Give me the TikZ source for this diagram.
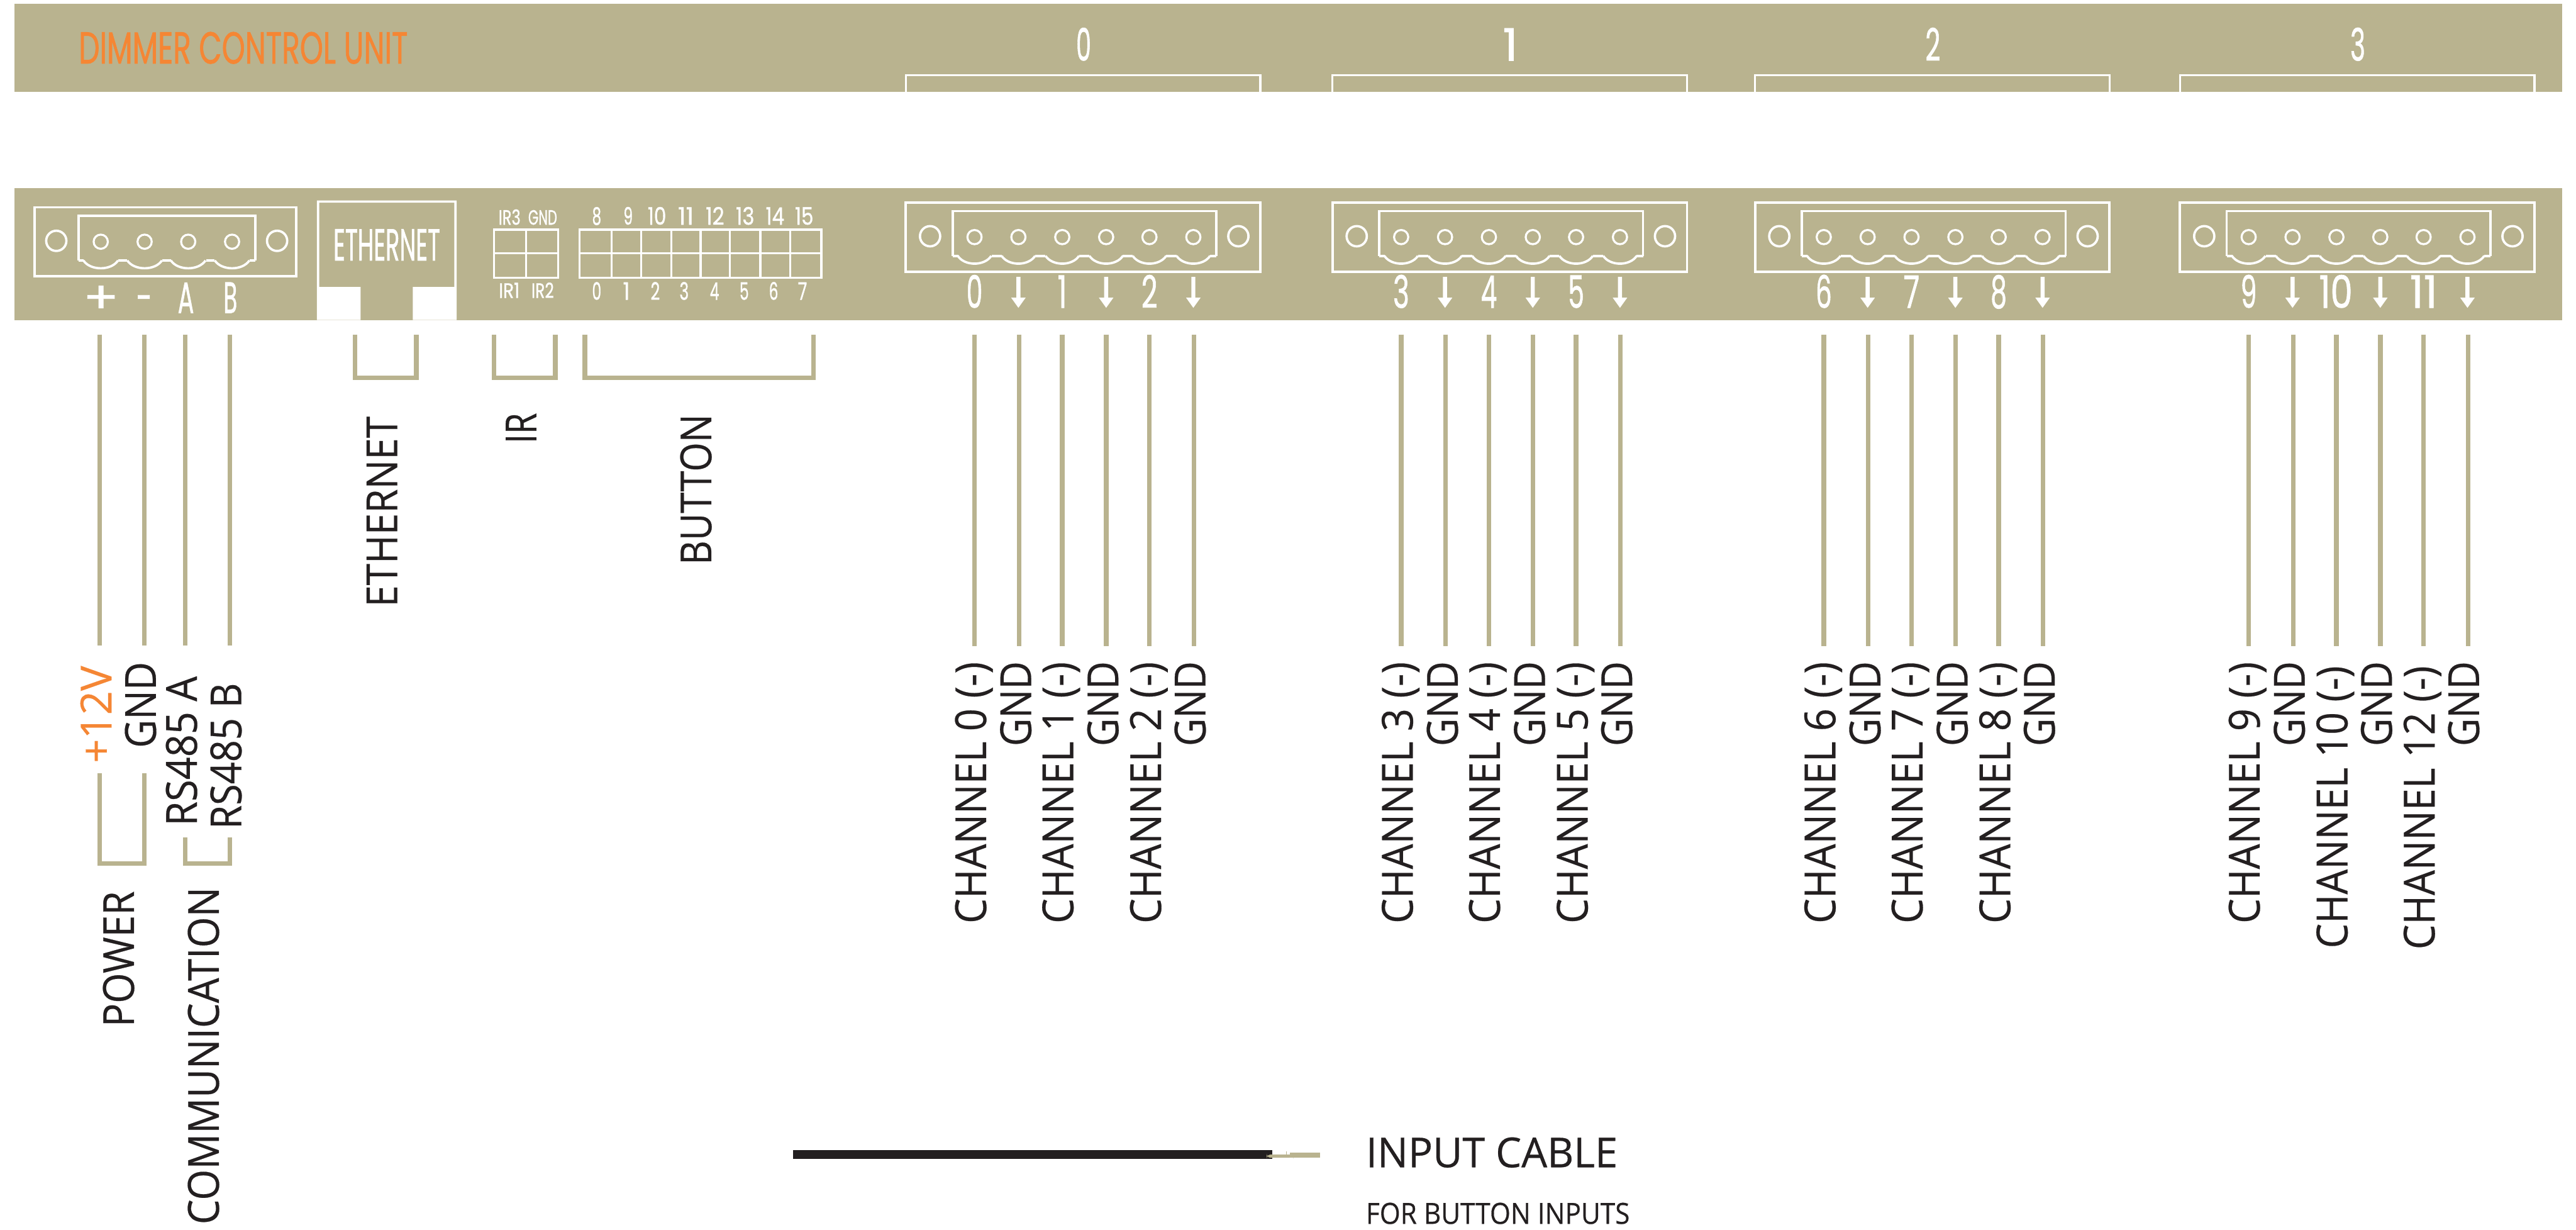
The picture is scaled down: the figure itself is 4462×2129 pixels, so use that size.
\documentclass[tikz,border=0pt]{standalone}
\usepackage{fontspec}
\usepackage{graphicx}
\newfontfamily\fut[FakeBold=1.2]{Poppins}
\newfontfamily\blk[FakeBold=0.4]{Open Sans}
\definecolor{tan}{HTML}{B9B38F}
\definecolor{orng}{HTML}{F58634}
\definecolor{ink}{HTML}{231F20}
\newlength\pxu \setlength\pxu{0.01cm}
\newsavebox\Hb
% fit text: width, cap height, font, text
\newcommand\fit[4]{\sbox\Hb{#3H}\resizebox{#1\pxu}{#2\pxu}{\raisebox{0pt}[\ht\Hb][0pt]{#3#4}}}
\tikzset{
  band/.style={fill=tan,draw=none},
  wl/.style={draw=white,line width=0.04cm},
  wlthin/.style={draw=white,line width=0.035cm},
  wire/.style={draw=tan,line width=0.08cm},
  lab/.style={inner sep=0pt,outer sep=0pt,anchor=base,text=white},
  rotlab/.style={inner sep=0pt,outer sep=0pt,rotate=90,anchor=base east,text=ink},
  blklab/.style={inner sep=0pt,outer sep=0pt,anchor=base west,text=ink}
}
% white label: name, centre x, baseline y, width, height, text
\newcommand\wlab[6]{\node[lab] (#1) at (#2,#3) {\fit{#4}{#5}{\fut}{#6}};}
% rotated label: name, baseline x, top y, length, colour, text
\newcommand\rlab[6]{\node[rotlab,text=#5] (#1) at (#2,#3) {\fit{#4}{53}{\blk}{#6}};}
% wire with named ends
\newcommand\wire[3]{\coordinate (wa#1) at (#1,#2); \coordinate (wb#1) at (#1,#3); \draw[wire] (wa#1) -- (wb#1);}
\newcommand\dnarrow[1]{\fill[white] ({#1-3.5},479.5) -- ({#1+3.5},479.5) -- ({#1+3.5},515.5) -- ({#1+12.5},515.5) -- (#1,533) -- ({#1-12.5},515.5) -- ({#1-3.5},515.5) -- cycle;}
% plug: dy, OL, OR, IL, IR, H1, H2, pins, half-width of scallop
\newcommand\plug[9]{
  \draw[wl] (#2+2,351+#1) rectangle (#3-2,470.5+#1);
  \draw[wl,line join=miter] (#4+2,443+#1) -- (#4+2,365.5+#1) -- (#5-2,365.5+#1) -- (#5-2,443+#1);
  \foreach \p in {#8} {
    \draw[wlthin] (\p,410.5+#1) circle[radius=12.3];
    \draw[wl] ({\p-#9},443+#1) .. controls ({\p-#9*0.6},461+#1) and ({\p+#9*0.6},461+#1) .. ({\p+#9},443+#1);
  }
  \draw[wl] (#6,409+#1) circle[radius=17.5];
  \draw[wl] (#7,409+#1) circle[radius=17.5];
}
\begin{document}
\begin{tikzpicture}[x=0.01cm,y=-0.01cm]
\useasboundingbox (0,0) rectangle (4462,2129);
\fill[white] (0,0) rectangle (4462,2129);
% bands
\fill[band] (25,7) rectangle (4438,158.5);
\fill[band] (25,326) rectangle (4438,554);
% ethernet cut-out
\fill[white] (549,347) -- (791,347) -- (791,554) -- (715,554) -- (715,497) -- (787,497) -- (787,351) -- (553,351) -- (553,497) -- (624.5,497) -- (624.5,554) -- (549,554) -- cycle;
% title
\node[lab,text=orng] (title) at (421.5,110) {\fit{570}{54}{\fut}{DIMMER CONTROL UNIT}};
\wlab{eth}{670}{451}{185}{54}{ETHERNET}
% power plug
\plug{8}{58}{515}{134}{444}{97.5}{480}{174.5,250.5,326,402}{30}
\draw[wl] (136,451) -- (145,451);
\foreach \a/\b in {205/220,281/296,357/372} {\draw[wl] (\a,451) -- (\b,451);}
\draw[wl] (432,451) -- (442,451);
\wlab{lplus}{175}{542}{62}{53}{+}
\wlab{lminus}{250}{542}{28}{53}{-}
\wlab{lA}{322}{542}{28}{53}{A}
\wlab{lB}{399}{542}{24}{53}{B}
% IR grid
\draw[wlthin] (855.5,397.5) rectangle (967,481);
\draw[wlthin] (911,397.5) -- (911,481);
\draw[wlthin] (855.5,438.7) -- (967,438.7);
\wlab{irc}{882.7}{389}{38}{25}{IR3}
\wlab{irg}{940}{389}{50}{25}{GND}
\wlab{ira}{882}{515.7}{36}{25}{IR1}
\wlab{irb}{940}{515.7}{39}{25}{IR2}
% button grid
\draw[wlthin] (1004,397.5) rectangle (1422.6,481);
\draw[wlthin] (1004,438.7) -- (1422.6,438.7);
\foreach \x in {1059,1111,1163,1213.5,1264,1317,1369} {\draw[wlthin] (\x,397.5) -- (\x,481);}
\foreach \x/\t/\w in {1033.6/8/16,1088/9/16,1138/10/32,1188/11/27,1238.5/12/32,1290.7/13/32,1342.5/14/32,1393/15/32}
  {\wlab{bt\t}{\x}{389}{\w}{29}{\t}}
\foreach \x/\t/\w in {1033.6/0/16,1085/1/12,1135/2/16,1185/3/16,1237.6/4/16,1289/5/16,1340/6/16,1390/7/16}
  {\wlab{bb\t}{\x}{519}{\w}{29}{\t}}
% channel groups
\foreach \o/\n/\a/\b/\c in {0/0/0/1/2,739/1/3/4/5,1471/2/6/7/8} {
  \begin{scope}[xshift=\o*0.01cm]
  \plug{0}{1567}{2185}{1648}{2109}{1611}{2145}{1688,1764,1840,1916,1991,2067}{29}
  \foreach \x/\y in {1650/1660,1718/1735,1793/1811,1869/1887,1945/1962,2020/2038,2096/2107} {\draw[wl] (\x,443) -- (\y,443);}
  \draw[draw=white,line width=0.035cm] (1569,159) -- (1569,130) -- (2183,130) -- (2183,159);
  \dnarrow{1764}\dnarrow{1916}\dnarrow{2067}
  \end{scope}
  \wlab{top\n}{\o+1877}{105}{26}{54}{\n}
  \wlab{pa\a}{\o+1688}{533}{28}{54}{\a}
  \wlab{pb\b}{\o+1840}{533}{\ifnum\b=1 16\else 28\fi}{54}{\b}
  \wlab{pc\c}{\o+1991}{533}{28}{54}{\c}
  \foreach \w in {1688,1765,1840,1916,1991,2068} {
    \pgfmathtruncatemacro\wx{\w+\o}
    \wire{\wx}{579}{1119}
  }
  \rlab{cha\a}{\o+1708}{1146}{453}{ink}{CHANNEL \a\ (-)}
  \rlab{chb\b}{\o+1859}{1146}{453}{ink}{CHANNEL \b\ (-)}
  \rlab{chc\c}{\o+2011}{1146}{453}{ink}{CHANNEL \c\ (-)}
  \rlab{gna\a}{\o+1786}{1145}{147}{ink}{GND}
  \rlab{gnb\b}{\o+1937}{1145}{147}{ink}{GND}
  \rlab{gnc\c}{\o+2088}{1145}{147}{ink}{GND}
}
% group 3
\begin{scope}[xshift=2207*0.01cm]
  \plug{0}{1567}{2185}{1648}{2109}{1611}{2145}{1688,1764,1840,1916,1991,2067}{29}
  \foreach \x/\y in {1650/1660,1718/1735,1793/1811,1869/1887,1945/1962,2020/2038,2096/2107} {\draw[wl] (\x,443) -- (\y,443);}
  \draw[draw=white,line width=0.035cm] (1569,159) -- (1569,130) -- (2183,130) -- (2183,159);
  \dnarrow{1764}\dnarrow{1916}\dnarrow{2067}
\end{scope}
\wlab{top3}{4084}{105}{26}{54}{3}
\wlab{p9}{3895}{533}{28}{54}{9}
\wlab{p10}{4046}{533}{58}{54}{10}
\wlab{p11}{4198}{533}{48}{54}{11}
\foreach \w in {3895,3972,4047,4123,4198,4275} {\wire{\w}{579}{1119}}
\rlab{ch9}{3914}{1146}{453}{ink}{CHANNEL 9 (-)}
\rlab{ch10}{4066}{1153}{489}{ink}{CHANNEL 10 (-)}
\rlab{ch12}{4217}{1153}{491}{ink}{CHANNEL 12 (-)}
\rlab{g9}{3992}{1145}{147}{ink}{GND}
\rlab{g10}{4143}{1145}{147}{ink}{GND}
\rlab{g12}{4294}{1145}{147}{ink}{GND}
% power wires
\wire{173}{579}{1118}
\wire{250}{579}{1118}
\wire{321}{579}{1118}
\wire{398}{579}{1118}
% brackets
\coordinate (ea) at (615,579); \coordinate (eb) at (615,654); \coordinate (ec) at (721,654); \coordinate (ed) at (721,579);
\draw[wire] (ea) -- (eb) -- (ec) -- (ed);
\coordinate (ia) at (856,579); \coordinate (ib) at (856,654); \coordinate (ic) at (962,654); \coordinate (id) at (962,579);
\draw[wire] (ia) -- (ib) -- (ic) -- (id);
\coordinate (ba) at (1013,579); \coordinate (bb) at (1013,654); \coordinate (bc) at (1409,654); \coordinate (bd) at (1409,579);
\draw[wire] (ba) -- (bb) -- (bc) -- (bd);
\coordinate (pa) at (173,1339); \coordinate (pb) at (173,1495); \coordinate (pc) at (250,1495); \coordinate (pd) at (250,1339);
\draw[wire] (pa) -- (pb) -- (pc) -- (pd);
\coordinate (ca) at (321,1450); \coordinate (cb) at (321,1495); \coordinate (cc) at (398,1495); \coordinate (cd) at (398,1450);
\draw[wire] (ca) -- (cb) -- (cc) -- (cd);
% rotated labels, left part
\rlab{v12}{193}{1153}{168}{orng}{+12V}
\rlab{gnd0}{270}{1146}{149}{ink}{GND}
\rlab{rsa}{341}{1171}{259}{ink}{RS485 A}
\rlab{rsb}{418}{1182.5}{253}{ink}{RS485 B}
\rlab{pow}{232}{1543}{235}{ink}{POWER}
\rlab{com}{379}{1536}{584}{ink}{COMMUNICATION}
\rlab{ethv}{688}{721}{330}{ink}{ETHERNET}
\rlab{irv}{929}{715}{53}{ink}{IR}
\rlab{btv}{1232}{717}{261}{ink}{BUTTON}
% cable
\fill[ink] (1373.5,1991) rectangle (2204,2007);
\fill[tan,rounded corners=2pt] (2194,1999) rectangle (2240,2004.5);
\fill[tan] (2234,1996) rectangle (2287,2004.5);
\fill[tan] (2227.5,1994) rectangle (2228.5,2000);
\node[blklab] (cable) at (2366,2021) {\fit{436}{51}{\blk}{INPUT CABLE}};
\node[blklab] (cabsub) at (2366,2119) {\fit{457}{36}{\blk}{FOR BUTTON INPUTS}};
\end{tikzpicture}
\end{document}
